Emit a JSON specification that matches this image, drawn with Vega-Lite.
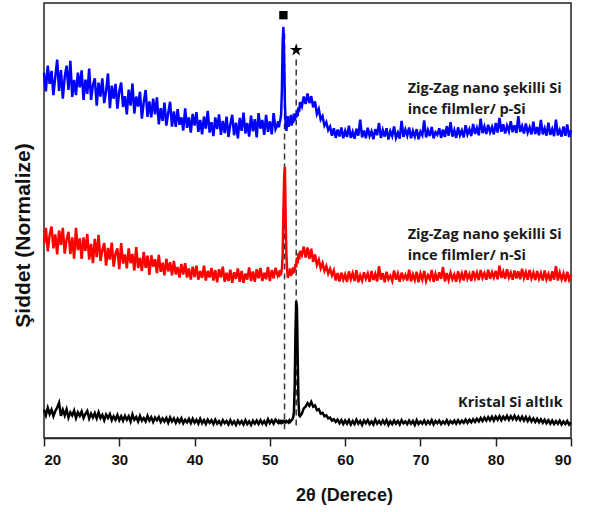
{
"$schema":"https://vega.github.io/schema/vega-lite/v6.json",
"width":527,"height":435,"autosize":"none",
"padding":{"left":44,"top":3,"right":20,"bottom":74},
"background":"white",
"config":{"view":{"stroke":"#222","strokeWidth":1.5},"font":"Liberation Sans"},
"datasets":{
"xrd":[
{"x":20,"b":84.0,"r":44.7,"k":6.5},{"x":20.25,"b":79.7,"r":48.3,"k":5.2},{"x":20.5,"b":85.6,"r":42.9,"k":6.9},{"x":20.75,"b":81.4,"r":46.7,"k":5.5},
{"x":21,"b":84.4,"r":48.6,"k":6.5},{"x":21.25,"b":78.8,"r":43.6,"k":5.0},{"x":21.5,"b":83.0,"r":46.8,"k":6.2},{"x":21.75,"b":87.0,"r":42.2,"k":7.0},
{"x":22,"b":79.8,"r":47.7,"k":8.1},{"x":22.25,"b":84.6,"r":44.4,"k":5.1},{"x":22.5,"b":78.0,"r":48.3,"k":6.5},{"x":22.75,"b":83.0,"r":42.4,"k":5.2},
{"x":23,"b":85.6,"r":45.6,"k":6.6},{"x":23.25,"b":80.0,"r":47.4,"k":4.7},{"x":23.5,"b":86.7,"r":42.3,"k":5.9},{"x":23.75,"b":78.4,"r":46.1,"k":5.2},
{"x":24,"b":82.3,"r":41.2,"k":6.3},{"x":24.25,"b":78.8,"r":48.3,"k":4.6},{"x":24.5,"b":84.0,"r":43.2,"k":5.9},{"x":24.75,"b":80.6,"r":45.9,"k":5.1},
{"x":25,"b":84.5,"r":41.2,"k":6.1},{"x":25.25,"b":77.7,"r":46.1,"k":4.6},{"x":25.5,"b":82.4,"r":43.0,"k":5.5},{"x":25.75,"b":79.1,"r":46.9,"k":6.2},
{"x":26,"b":84.9,"r":41.0,"k":4.5},{"x":26.25,"b":77.7,"r":44.6,"k":5.6},{"x":26.5,"b":81.2,"r":40.2,"k":4.7},{"x":26.75,"b":82.7,"r":45.8,"k":5.7},
{"x":27,"b":76.4,"r":41.6,"k":4.5},{"x":27.25,"b":81.7,"r":46.7,"k":5.9},{"x":27.5,"b":78.5,"r":40.7,"k":4.6},{"x":27.75,"b":82.7,"r":43.2,"k":5.3},
{"x":28,"b":77.0,"r":44.8,"k":4.1},{"x":28.25,"b":79.8,"r":39.6,"k":5.4},{"x":28.5,"b":83.8,"r":43.7,"k":4.6},{"x":28.75,"b":75.8,"r":41.0,"k":5.5},
{"x":29,"b":81.0,"r":44.9,"k":4.1},{"x":29.25,"b":78.0,"r":39.4,"k":5.0},{"x":29.5,"b":81.4,"r":42.4,"k":4.2},{"x":29.75,"b":75.7,"r":43.6,"k":5.3},
{"x":30,"b":79.7,"r":38.8,"k":4.1},{"x":30.25,"b":81.7,"r":44.8,"k":5.0},{"x":30.5,"b":76.1,"r":40.1,"k":4.0},{"x":30.75,"b":78.6,"r":42.2,"k":5.1},
{"x":31,"b":74.4,"r":39.0,"k":4.2},{"x":31.25,"b":80.1,"r":43.6,"k":5.0},{"x":31.5,"b":76.4,"r":40.2,"k":3.8},{"x":31.75,"b":81.5,"r":42.3,"k":5.4},
{"x":32,"b":74.6,"r":38.5,"k":4.2},{"x":32.25,"b":78.5,"r":43.9,"k":4.8},{"x":32.5,"b":76.2,"r":39.1,"k":3.8},{"x":32.75,"b":79.6,"r":41.4,"k":5.1},
{"x":33,"b":73.4,"r":38.4,"k":4.0},{"x":33.25,"b":77.2,"r":42.8,"k":4.6},{"x":33.5,"b":80.0,"r":39.1,"k":3.8},{"x":33.75,"b":73.8,"r":41.9,"k":5.1},
{"x":34,"b":77.4,"r":37.5,"k":4.0},{"x":34.25,"b":73.7,"r":42.0,"k":4.8},{"x":34.5,"b":78.0,"r":39.4,"k":3.7},{"x":34.75,"b":74.4,"r":41.1,"k":4.7},
{"x":35,"b":78.3,"r":37.9,"k":4.1},{"x":35.25,"b":72.1,"r":42.1,"k":4.8},{"x":35.5,"b":75.8,"r":38.2,"k":3.7},{"x":35.75,"b":72.9,"r":40.3,"k":4.5},
{"x":36,"b":77.1,"r":37.4,"k":3.8},{"x":36.25,"b":71.8,"r":41.2,"k":4.6},{"x":36.5,"b":74.7,"r":38.3,"k":3.5},{"x":36.75,"b":77.3,"r":40.4,"k":4.7},
{"x":37,"b":71.6,"r":37.4,"k":3.8},{"x":37.25,"b":75.1,"r":40.7,"k":4.5},{"x":37.5,"b":71.5,"r":37.6,"k":3.5},{"x":37.75,"b":75.6,"r":39.3,"k":4.4},
{"x":38,"b":72.0,"r":36.9,"k":3.6},{"x":38.25,"b":73.7,"r":40.0,"k":4.5},{"x":38.5,"b":70.7,"r":37.6,"k":3.4},{"x":38.75,"b":75.8,"r":40.2,"k":4.2},
{"x":39,"b":71.3,"r":36.9,"k":3.6},{"x":39.25,"b":73.7,"r":39.0,"k":4.4},{"x":39.5,"b":70.2,"r":36.4,"k":3.4},{"x":39.75,"b":74.5,"r":39.4,"k":4.4},
{"x":40,"b":71.8,"r":37.0,"k":3.5},{"x":40.25,"b":74.9,"r":39.6,"k":4.2},{"x":40.5,"b":70.4,"r":36.4,"k":3.3},{"x":40.75,"b":73.1,"r":38.4,"k":4.4},
{"x":41,"b":69.8,"r":36.8,"k":3.4},{"x":41.25,"b":73.9,"r":39.6,"k":4.1},{"x":41.5,"b":71.1,"r":36.2,"k":3.2},{"x":41.75,"b":75.2,"r":38.4,"k":4.2},
{"x":42,"b":70.2,"r":36.9,"k":3.5},{"x":42.25,"b":72.6,"r":39.1,"k":4.1},{"x":42.5,"b":69.4,"r":36.2,"k":3.2},{"x":42.75,"b":73.7,"r":38.6,"k":4.2},
{"x":43,"b":71.0,"r":35.8,"k":3.3},{"x":43.25,"b":74.4,"r":38.8,"k":3.9},{"x":43.5,"b":69.7,"r":36.9,"k":3.1},{"x":43.75,"b":72.9,"r":39.4,"k":4.1},
{"x":44,"b":70.1,"r":35.9,"k":3.4},{"x":44.25,"b":73.9,"r":38.0,"k":3.9},{"x":44.5,"b":69.2,"r":36.1,"k":3.1},{"x":44.75,"b":72.1,"r":38.7,"k":4.1},
{"x":45,"b":74.3,"r":35.7,"k":3.2},{"x":45.25,"b":69.6,"r":38.1,"k":3.8},{"x":45.5,"b":72.5,"r":36.6,"k":3.0},{"x":45.75,"b":68.9,"r":39.0,"k":4.0},
{"x":46,"b":73.6,"r":35.9,"k":3.3},{"x":46.25,"b":70.6,"r":38.4,"k":3.9},{"x":46.5,"b":74.8,"r":35.7,"k":3.1},{"x":46.75,"b":70.0,"r":37.8,"k":4.1},
{"x":47,"b":72.4,"r":36.4,"k":3.2},{"x":47.25,"b":69.3,"r":39.2,"k":3.8},{"x":47.5,"b":74.1,"r":36.1,"k":3.0},{"x":47.75,"b":70.5,"r":38.3,"k":4.0},
{"x":48,"b":73.3,"r":35.9,"k":3.3},{"x":48.25,"b":69.1,"r":38.8,"k":4.0},{"x":48.5,"b":74.7,"r":36.7,"k":3.2},{"x":48.75,"b":71.1,"r":39.1,"k":4.1},
{"x":49,"b":73.1,"r":36.1,"k":3.3},{"x":49.25,"b":69.7,"r":38.0,"k":3.9},{"x":49.5,"b":74.3,"r":36.5,"k":3.1},{"x":49.75,"b":70.4,"r":39.3,"k":4.3},
{"x":50,"b":72.8,"r":36.1,"k":3.4},{"x":50.25,"b":69.8,"r":38.6,"k":4.1},{"x":50.5,"b":74.7,"r":36.7,"k":3.3},{"x":50.75,"b":71.0,"r":39.1,"k":4.2},
{"x":51.0,"b":72.0,"r":37.5,"k":3.7},{"x":51.1,"b":72.8,"r":38.2,"k":3.5},{"x":51.2,"b":71.4,"r":37.0,"k":3.9},{"x":51.3,"b":72.5,"r":38.6,"k":3.6},
{"x":51.4,"b":73.2,"r":37.4,"k":3.8},{"x":51.5,"b":74.5,"r":37.9,"k":3.5},{"x":51.6,"b":80.0,"r":38.8,"k":3.8},{"x":51.7,"b":91.0,"r":42.0,"k":3.6},
{"x":51.8,"b":94.5,"r":52.0,"k":3.9},{"x":51.9,"b":87.0,"r":60.0,"k":3.7},{"x":52.0,"b":77.0,"r":62.3,"k":3.8},{"x":52.1,"b":72.0,"r":50.0,"k":3.6},
{"x":52.2,"b":70.6,"r":42.0,"k":3.9},{"x":52.3,"b":72.8,"r":38.5,"k":3.7},{"x":52.4,"b":74.0,"r":36.8,"k":3.8},{"x":52.5,"b":71.5,"r":38.2,"k":3.6},
{"x":52.6,"b":73.2,"r":37.5,"k":4.0},{"x":52.7,"b":72.1,"r":39.0,"k":3.7},{"x":52.8,"b":74.3,"r":37.2,"k":3.9},{"x":52.9,"b":71.8,"r":38.4,"k":4.1},
{"x":53.0,"b":73.5,"r":37.6,"k":4.3},{"x":53.1,"b":72.4,"r":39.2,"k":4.8},{"x":53.2,"b":74.6,"r":38.0,"k":6.0},{"x":53.3,"b":73.0,"r":38.8,"k":12.0},
{"x":53.4,"b":74.2,"r":40.0,"k":24.0},{"x":53.5,"b":73.6,"r":39.2,"k":31.5},{"x":53.6,"b":75.2,"r":41.5,"k":30.0},{"x":53.7,"b":74.0,"r":40.2,"k":18.0},
{"x":53.8,"b":76.0,"r":42.5,"k":8.5},{"x":53.9,"b":75.0,"r":41.0,"k":5.2},{"x":54.0,"b":77.2,"r":43.0,"k":5.0},
{"x":54.25,"b":76.2,"r":42.0,"k":5.6},{"x":54.5,"b":78.5,"r":44.0,"k":6.8},{"x":54.75,"b":76.8,"r":41.5,"k":7.2},{"x":55,"b":79.2,"r":43.8,"k":8.0},
{"x":55.25,"b":77.0,"r":41.2,"k":7.4},{"x":55.5,"b":78.6,"r":43.5,"k":8.3},{"x":55.75,"b":76.0,"r":40.5,"k":7.2},{"x":56,"b":77.4,"r":42.2,"k":7.5},
{"x":56.25,"b":74.5,"r":39.8,"k":6.4},{"x":56.5,"b":75.6,"r":41.0,"k":6.6},{"x":56.75,"b":73.2,"r":39.0,"k":5.6},{"x":57,"b":74.0,"r":40.2,"k":5.8},
{"x":57.25,"b":71.8,"r":38.4,"k":5.0},{"x":57.5,"b":72.6,"r":39.5,"k":5.2},{"x":57.75,"b":70.8,"r":37.8,"k":4.5},{"x":58,"b":71.6,"r":38.9,"k":4.7},
{"x":58.25,"b":69.5,"r":37.4,"k":4.0},{"x":58.5,"b":71.2,"r":38.5,"k":4.3},{"x":58.75,"b":69.0,"r":36.2,"k":3.7},{"x":59,"b":70.9,"r":37.9,"k":4.2},
{"x":59.25,"b":69.3,"r":36.0,"k":3.4},{"x":59.5,"b":71.4,"r":38.0,"k":4.1},{"x":59.75,"b":68.9,"r":36.4,"k":3.2},{"x":60,"b":70.6,"r":37.6,"k":4.0},
{"x":60.25,"b":69.2,"r":35.9,"k":3.3},{"x":60.5,"b":71.8,"r":38.3,"k":4.1},{"x":60.75,"b":69.0,"r":36.5,"k":3.1},{"x":61,"b":70.4,"r":37.9,"k":3.9},
{"x":61.25,"b":68.8,"r":36.1,"k":3.2},{"x":61.5,"b":71.1,"r":38.6,"k":4.2},{"x":61.75,"b":69.5,"r":35.8,"k":3.3},{"x":62,"b":73.2,"r":37.4,"k":3.9},
{"x":62.25,"b":69.1,"r":36.2,"k":3.0},{"x":62.5,"b":70.7,"r":38.1,"k":4.0},{"x":62.75,"b":68.9,"r":36.6,"k":3.4},{"x":63,"b":71.3,"r":37.8,"k":4.1},
{"x":63.25,"b":69.4,"r":35.9,"k":3.2},{"x":63.5,"b":70.5,"r":38.4,"k":3.8},{"x":63.75,"b":68.7,"r":36.3,"k":3.1},{"x":64,"b":71.0,"r":37.7,"k":4.2},
{"x":64.25,"b":69.6,"r":36.0,"k":3.3},{"x":64.5,"b":72.4,"r":39.5,"k":3.9},{"x":64.75,"b":69.0,"r":36.4,"k":3.2},{"x":65,"b":70.8,"r":37.9,"k":4.0},
{"x":65.25,"b":69.3,"r":35.8,"k":3.3},{"x":65.5,"b":71.2,"r":38.2,"k":4.1},{"x":65.75,"b":68.6,"r":36.5,"k":3.0},{"x":66,"b":70.5,"r":37.3,"k":3.8},
{"x":66.25,"b":69.4,"r":36.1,"k":3.2},{"x":66.5,"b":71.6,"r":38.5,"k":4.0},{"x":66.75,"b":69.0,"r":36.4,"k":3.3},{"x":67,"b":70.2,"r":37.8,"k":3.9},
{"x":67.25,"b":68.8,"r":35.9,"k":3.1},{"x":67.5,"b":72.9,"r":38.0,"k":4.1},{"x":67.75,"b":69.2,"r":36.6,"k":3.4},{"x":68,"b":70.9,"r":37.5,"k":3.8},
{"x":68.25,"b":69.5,"r":36.2,"k":3.2},{"x":68.5,"b":71.4,"r":38.7,"k":4.0},{"x":68.75,"b":68.9,"r":36.0,"k":3.3},{"x":69,"b":70.6,"r":37.6,"k":3.9},
{"x":69.25,"b":69.3,"r":36.3,"k":3.0},{"x":69.5,"b":71.0,"r":38.2,"k":4.1},{"x":69.75,"b":68.7,"r":35.8,"k":3.2},{"x":70,"b":70.4,"r":37.8,"k":3.8},
{"x":70.25,"b":69.6,"r":36.4,"k":3.3},{"x":70.5,"b":73.0,"r":38.4,"k":4.0},{"x":70.75,"b":69.1,"r":36.1,"k":3.2},{"x":71,"b":70.8,"r":37.4,"k":3.9},
{"x":71.25,"b":69.4,"r":36.5,"k":3.3},{"x":71.5,"b":71.5,"r":38.6,"k":4.1},{"x":71.75,"b":68.9,"r":35.9,"k":3.1},{"x":72,"b":70.3,"r":37.7,"k":3.9},
{"x":72.25,"b":69.7,"r":36.2,"k":3.4},{"x":72.5,"b":71.2,"r":38.1,"k":4.0},{"x":72.75,"b":69.0,"r":36.6,"k":3.2},{"x":73,"b":70.9,"r":39.3,"k":3.8},
{"x":73.25,"b":69.2,"r":36.0,"k":3.3},{"x":73.5,"b":71.7,"r":37.9,"k":4.1},{"x":73.75,"b":69.5,"r":36.3,"k":3.2},{"x":74,"b":72.6,"r":38.0,"k":3.9},
{"x":74.25,"b":69.3,"r":36.5,"k":3.4},{"x":74.5,"b":70.8,"r":37.6,"k":4.0},{"x":74.75,"b":69.0,"r":35.9,"k":3.3},{"x":75,"b":71.4,"r":38.3,"k":4.1},
{"x":75.25,"b":69.6,"r":36.4,"k":3.4},{"x":75.5,"b":70.7,"r":37.8,"k":4.0},{"x":75.75,"b":69.1,"r":36.2,"k":3.5},{"x":76,"b":71.9,"r":38.5,"k":4.2},
{"x":76.25,"b":69.8,"r":36.6,"k":3.5},{"x":76.5,"b":71.0,"r":37.7,"k":4.2},{"x":76.75,"b":69.4,"r":36.1,"k":3.6},{"x":77,"b":72.2,"r":38.4,"k":4.3},
{"x":77.25,"b":69.9,"r":36.7,"k":3.7},{"x":77.5,"b":71.3,"r":38.0,"k":4.4},{"x":77.75,"b":69.6,"r":36.3,"k":3.8},{"x":78,"b":73.4,"r":38.6,"k":4.6},
{"x":78.25,"b":70.1,"r":36.8,"k":3.9},{"x":78.5,"b":71.6,"r":37.9,"k":4.7},{"x":78.75,"b":69.9,"r":36.4,"k":4.0},{"x":79,"b":72.0,"r":38.7,"k":4.8},
{"x":79.25,"b":70.3,"r":36.6,"k":4.1},{"x":79.5,"b":71.5,"r":38.1,"k":4.9},{"x":79.75,"b":69.8,"r":36.9,"k":4.0},{"x":80,"b":72.4,"r":38.4,"k":4.9},
{"x":80.25,"b":70.2,"r":36.5,"k":4.2},{"x":80.5,"b":73.6,"r":39.6,"k":5.0},{"x":80.75,"b":70.4,"r":36.8,"k":4.1},{"x":81,"b":72.1,"r":38.2,"k":4.9},
{"x":81.25,"b":70.0,"r":36.6,"k":4.3},{"x":81.5,"b":71.8,"r":38.8,"k":5.1},{"x":81.75,"b":70.5,"r":36.9,"k":4.2},{"x":82,"b":72.8,"r":38.0,"k":5.0},
{"x":82.25,"b":70.3,"r":36.4,"k":4.3},{"x":82.5,"b":71.9,"r":38.5,"k":5.1},{"x":82.75,"b":70.1,"r":36.7,"k":4.2},{"x":83,"b":74.0,"r":38.3,"k":4.9},
{"x":83.25,"b":70.4,"r":36.5,"k":4.1},{"x":83.5,"b":71.7,"r":38.9,"k":4.9},{"x":83.75,"b":70.0,"r":36.8,"k":4.0},{"x":84,"b":72.3,"r":38.1,"k":4.8},
{"x":84.25,"b":70.2,"r":36.4,"k":3.9},{"x":84.5,"b":71.4,"r":38.6,"k":4.7},{"x":84.75,"b":69.8,"r":36.7,"k":3.8},{"x":85,"b":72.7,"r":38.0,"k":4.5},
{"x":85.25,"b":69.9,"r":36.3,"k":3.7},{"x":85.5,"b":71.5,"r":38.4,"k":4.4},{"x":85.75,"b":69.6,"r":36.6,"k":3.6},{"x":86,"b":73.1,"r":37.9,"k":4.3},
{"x":86.25,"b":69.8,"r":36.2,"k":3.5},{"x":86.5,"b":71.2,"r":38.5,"k":4.2},{"x":86.75,"b":69.5,"r":36.5,"k":3.4},{"x":87,"b":72.5,"r":37.7,"k":4.1},
{"x":87.25,"b":69.7,"r":36.1,"k":3.3},{"x":87.5,"b":71.0,"r":38.3,"k":4.0},{"x":87.75,"b":69.4,"r":36.4,"k":3.2},{"x":88,"b":73.2,"r":39.5,"k":3.9},
{"x":88.25,"b":69.6,"r":36.2,"k":3.3},{"x":88.5,"b":70.8,"r":38.0,"k":4.0},{"x":88.75,"b":69.3,"r":36.5,"k":3.1},{"x":89,"b":71.6,"r":37.8,"k":3.8},
{"x":89.25,"b":69.5,"r":36.0,"k":3.2},{"x":89.5,"b":72.1,"r":38.2,"k":3.9},{"x":89.75,"b":69.2,"r":36.4,"k":3.1},{"x":90,"b":70.7,"r":37.6,"k":3.6}
],
"refs":[{"x":51.95,"y":93,"y2":2},{"x":53.5,"y":87,"y2":2}],
"sq":[{"x":51.8,"y":97.2}],
"star":[{"x":53.5,"y":89.2}],
"labels":[
{"x":68.3,"y":79.3,"t":"Zig-Zag nano şekilli Si"},
{"x":68.3,"y":74.5,"t":"ince filmler/ p-Si"},
{"x":68.3,"y":45.7,"t":"Zig-Zag nano şekilli Si"},
{"x":68.3,"y":40.9,"t":"ince filmler/ n-Si"},
{"x":75.0,"y":7.1,"t":"Kristal Si altlık"}
]
},
"layer":[
{"data":{"name":"refs"},
 "mark":{"type":"rule","strokeDash":[6,4],"strokeWidth":1.5,"color":"#333"},
 "encoding":{
  "x":{"field":"x","type":"quantitative","title":"2θ (Derece)","scale":{"domain":[20,90],"nice":false,"zero":false},
   "axis":{"orient":"bottom","values":[20,25,30,35,40,45,50,55,60,65,70,75,80,85,90],
    "labelExpr":"datum.value % 10 === 0 ? datum.label : ''",
    "tickSize":{"condition":{"test":"datum.value % 10 === 0","value":8},"value":5},
    "tickWidth":1.5,"tickColor":"#222","domainColor":"#222","domainWidth":1.5,"grid":false,
    "labelFont":"Liberation Sans","labelFontWeight":"bold","labelFontSize":15,"labelColor":"#111","labelPadding":6,
    "titleFont":"Liberation Sans","titleFontSize":18,"titleFontWeight":"bold","titleColor":"#111",
    "titleX":300,"titleY":62,"titleAlign":"center","titleBaseline":"alphabetic"}},
  "y":{"field":"y","type":"quantitative","title":"Şiddet (Normalize)","scale":{"domain":[0,100],"nice":false,"zero":false},
   "axis":{"orient":"left","labels":false,"ticks":false,"domain":false,"grid":false,
    "titleFont":"Liberation Sans","titleFontSize":21,"titleFontWeight":"bold","titleColor":"#111",
    "titleX":-21,"titleY":232,"titleAngle":-90,"titleAlign":"center","titleBaseline":"middle"}},
  "y2":{"field":"y2"}}},
{"data":{"name":"xrd"},
 "transform":[{"fold":["b","r","k"],"as":["series","y"]}],
 "mark":{"type":"line","strokeWidth":2.5},
 "encoding":{
  "x":{"field":"x","type":"quantitative","title":"2θ (Derece)"},
  "y":{"field":"y","type":"quantitative","title":"Şiddet (Normalize)"},
  "color":{"field":"series","type":"nominal","scale":{"domain":["b","r","k"],"range":["#0000ff","#ff0000","#000000"]},"legend":null}}},
{"data":{"name":"sq"},
 "mark":{"type":"point","shape":"square","filled":true,"size":70,"color":"#000","opacity":1},
 "encoding":{"x":{"field":"x","type":"quantitative","title":"2θ (Derece)"},"y":{"field":"y","type":"quantitative","title":"Şiddet (Normalize)"}}},
{"data":{"name":"star"},
 "mark":{"type":"point","shape":"M0,-1L0.2245,-0.309L0.9511,-0.309L0.3633,0.118L0.5878,0.809L0,0.382L-0.5878,0.809L-0.3633,0.118L-0.9511,-0.309L-0.2245,-0.309Z","filled":true,"size":180,"color":"#000","opacity":1},
 "encoding":{"x":{"field":"x","type":"quantitative","title":"2θ (Derece)"},"y":{"field":"y","type":"quantitative","title":"Şiddet (Normalize)"}}},
{"data":{"name":"labels"},
 "mark":{"type":"text","align":"left","baseline":"alphabetic","font":"Open Sans","fontWeight":"bold","fontSize":14.5,"color":"#1a1a1a"},
 "encoding":{"x":{"field":"x","type":"quantitative","title":"2θ (Derece)"},"y":{"field":"y","type":"quantitative","title":"Şiddet (Normalize)"},"text":{"field":"t"}}}
]
}
